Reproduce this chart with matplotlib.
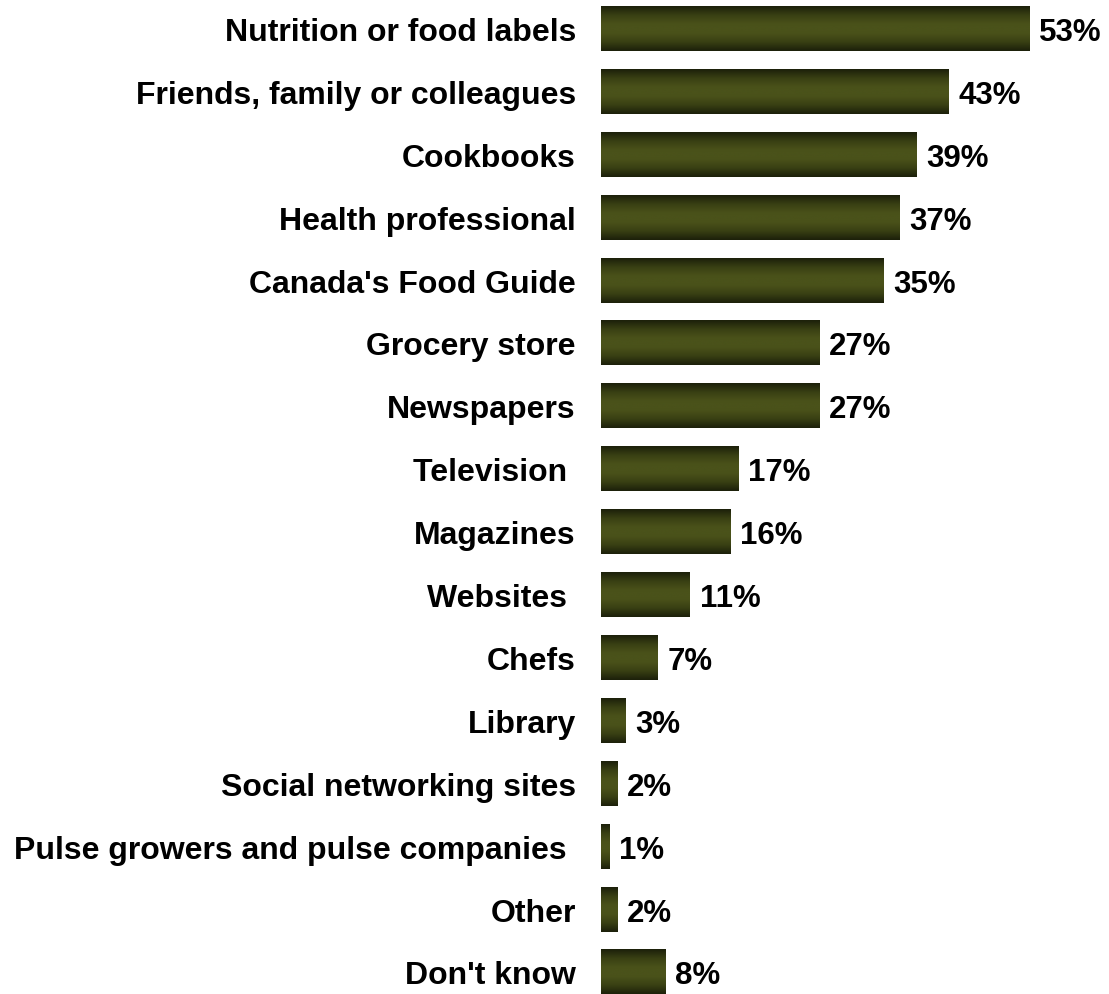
import numpy as np
import matplotlib.pyplot as plt
from matplotlib.colors import LinearSegmentedColormap

plt.rcParams['font.family'] = ['Liberation Sans', 'DejaVu Sans']

sources = ["Nutrition or food labels", "Friends, family or colleagues", "Cookbooks",
           "Health professional", "Canada's Food Guide", "Grocery store", "Newspapers",
           "Television ", "Magazines", "Websites ", "Chefs", "Library",
           "Social networking sites", "Pulse growers and pulse companies ", "Other",
           "Don't know"]
pct = [53, 43, 39, 37, 35, 27, 27, 17, 16, 11, 7, 3, 2, 1, 2, 8]

fig = plt.figure(figsize=(11.09, 9.95), dpi=100)
ax = fig.add_axes([601 / 1109, 0, 1 - 601 / 1109, 1])

pitch = 62.9
top = -29.5 / pitch
bottom = (995 - 29.5) / pitch
xmax = (1109 - 601) / 8.08

y = np.arange(len(sources))
bars = ax.barh(y, pct, height=0.715, color='none', edgecolor='none')

# vertical shading: dark at top/bottom edges, olive in the middle
cmap = LinearSegmentedColormap.from_list('olive', ['#1c200a', '#394013', '#4a521a', '#4a521a', '#394013', '#1c200a'])
grad = np.linspace(0, 1, 100).reshape(-1, 1)
for b in bars:
    x0, y0, w, h = b.get_x(), b.get_y(), b.get_width(), b.get_height()
    ax.imshow(grad, cmap=cmap, aspect='auto', extent=(x0, x0 + w, y0 + h, y0),
              interpolation='bicubic', zorder=2)

for i, (name, v) in enumerate(zip(sources, pct)):
    ax.text(-3.1, i, name, ha='right', va='center_baseline', fontsize=23, fontweight='bold',
            clip_on=False)
    ax.text(v + 1.2, i, f"{v}%", ha='left', va='center_baseline', fontsize=22.5, fontweight='bold')

ax.set_ylim(bottom, top)
ax.set_xlim(0, xmax)
ax.axis('off')

plt.savefig('out.png', dpi=100)
plt.close()
